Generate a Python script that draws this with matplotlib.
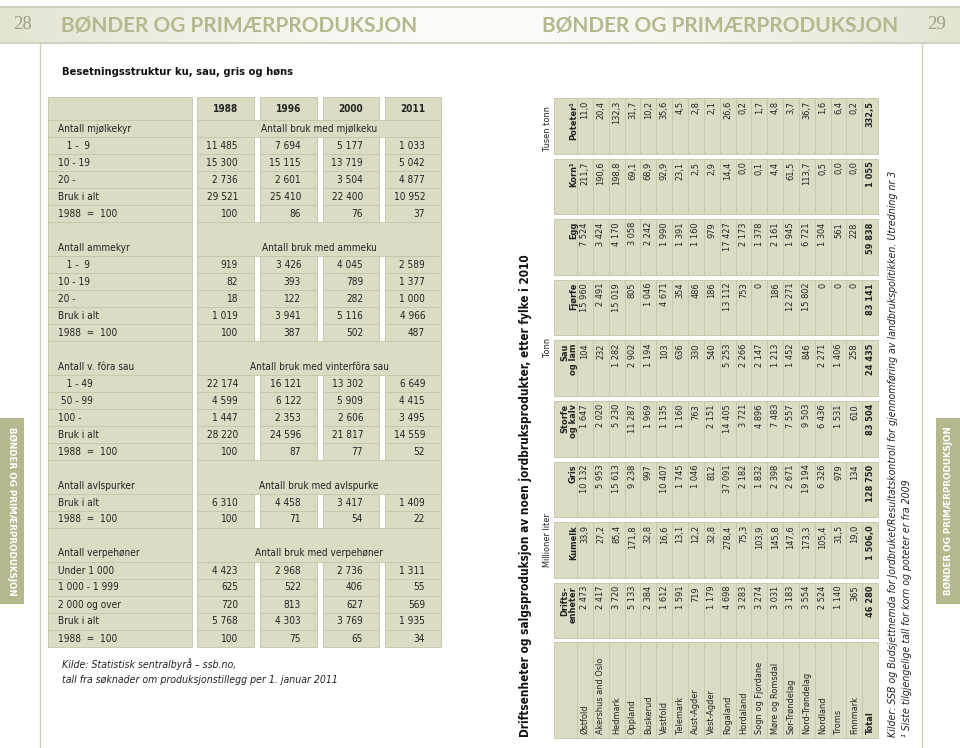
import os

import matplotlib

matplotlib.use("Agg")
import matplotlib.pyplot as plt
import numpy as np
from matplotlib import font_manager as fm
from matplotlib.patches import Rectangle

# ---------------------------------------------------------------- left table
years = ["1988", "1996", "2000", "2011"]
group_titles = ["Antall mjølkekyr", "Antall ammekyr", "Antall v. fôra sau",
                "Antall avlspurker", "Antall verpehøner"]
group_heads = ["Antall bruk med mjølkeku", "Antall bruk med ammeku",
               "Antall bruk med vinterfôra sau", "Antall bruk med avlspurke",
               "Antall bruk med verpehøner"]

mjolk_rows = ["   1 -  9", "10 - 19", "20 -", "Bruk i alt", "1988  =  100"]
mjolk_vals = [[11485, 7694, 5177, 1033], [15300, 15115, 13719, 5042],
              [2736, 2601, 3504, 4877], [29521, 25410, 22400, 10952],
              [100, 86, 76, 37]]
amme_rows = ["   1 -  9", "10 - 19", "20 -", "Bruk i alt", "1988  =  100"]
amme_vals = [[919, 3426, 4045, 2589], [82, 393, 789, 1377],
             [18, 122, 282, 1000], [1019, 3941, 5116, 4966],
             [100, 387, 502, 487]]
sau_rows = ["   1 - 49", " 50 - 99", "100 -", "Bruk i alt", "1988  =  100"]
sau_vals = [[22174, 16121, 13302, 6649], [4599, 6122, 5909, 4415],
            [1447, 2353, 2606, 3495], [28220, 24596, 21817, 14559],
            [100, 87, 77, 52]]
gris_rows = ["Bruk i alt", "1988  =  100"]
gris_vals = [[6310, 4458, 3417, 1409], [100, 71, 54, 22]]
hons_rows = ["Under 1 000", "1 000 - 1 999", "2 000 og over", "Bruk i alt",
             "1988  =  100"]
hons_vals = [[4423, 2968, 2736, 1311], [625, 522, 406, 55],
             [720, 813, 627, 569], [5768, 4303, 3769, 1935],
             [100, 75, 65, 34]]

groups = [(mjolk_rows, mjolk_vals), (amme_rows, amme_vals),
          (sau_rows, sau_vals), (gris_rows, gris_vals),
          (hons_rows, hons_vals)]

# --------------------------------------------------------------- right table
counties = ["Østfold", "Akershus and Oslo", "Hedmark", "Oppland", "Buskerud",
            "Vestfold", "Telemark", "Aust-Agder", "Vest-Agder", "Rogaland",
            "Hordaland", "Sogn og Fjordane", "Møre og Romsdal",
            "Sør-Trøndelag", "Nord-Trøndelag", "Nordland", "Troms",
            "Finnmark", "Total"]
col_heads = [("Drifts-", "enheter"), ("", "Kumelk"), ("", "Gris"),
             ("Storfe", "og kalv"), ("Sau", "og lam"), ("", "Fjørfe"),
             ("", "Egg"), ("", "Korn¹"), ("", "Poteter¹")]
driftsenheter = [2473, 2417, 3720, 5133, 2384, 1612, 1591, 719, 1179, 4698,
                 3283, 3274, 3031, 3183, 3554, 2524, 1140, 365, 46280]
kumelk = [33.9, 27.2, 85.4, 171.8, 32.8, 16.6, 13.1, 12.2, 32.8, 278.4, 75.3,
          103.9, 145.8, 147.6, 173.3, 105.4, 31.5, 19.0, 1506.0]
gris = [10132, 5953, 15613, 9238, 997, 10407, 1745, 1046, 812, 37091, 2182,
        1832, 2398, 2671, 19194, 6326, 979, 134, 128750]
storfe = [1647, 2020, 5230, 11287, 1969, 1135, 1160, 763, 2151, 14405, 3721,
          4896, 7483, 7557, 9503, 6436, 1531, 610, 83504]
sau = [104, 232, 1282, 2902, 1194, 103, 636, 330, 540, 5253, 2266, 2147,
       1213, 1452, 846, 2271, 1406, 258, 24435]
fjorfe = [15960, 2491, 15019, 805, 1046, 4671, 354, 486, 186, 13112, 753, 0,
          186, 12271, 15802, 0, 0, 0, 83141]
egg = [7524, 3424, 4170, 3058, 2242, 1990, 1391, 1160, 979, 17427, 2173,
       1378, 2161, 1945, 6721, 1304, 561, 228, 59838]
korn = [211.7, 190.6, 198.8, 69.1, 68.9, 92.9, 23.1, 2.5, 2.9, 14.4, 0.0, 0.1,
        4.4, 61.5, 113.7, 0.5, 0.0, 0.0, 1055]
poteter = [11.0, 20.4, 132.3, 31.7, 10.2, 35.6, 4.5, 2.8, 2.1, 26.6, 0.2, 1.7,
           4.8, 3.7, 36.7, 1.6, 6.4, 0.2, 332.5]
right_cols = [driftsenheter, kumelk, gris, storfe, sau, fjorfe, egg, korn,
              poteter]

FILL = "#dcdcc5"
LINE = "#c4c4a8"
OLIVE = "#b5b88d"
TXT = "#222222"

# ------------------------------------------------------------------- fonts
_paths = {os.path.basename(p): p for p in fm.findSystemFonts()}


def font(names, family, weight="normal", style="normal"):
    for n in names:
        if n in _paths:
            return fm.FontProperties(fname=_paths[n]), 1.0
    return fm.FontProperties(family=family, weight=weight, style=style), 0.86


NARROW = font(["LiberationSansNarrow-Regular.ttf", "DejaVuSansCondensed.ttf"],
              "Liberation Sans")
NARROW_B = font(["LiberationSansNarrow-Bold.ttf", "DejaVuSansCondensed-Bold.ttf"],
                "Liberation Sans", weight="bold")
NARROW_I = font(["LiberationSansNarrow-Italic.ttf",
                 "DejaVuSansCondensed-Oblique.ttf"],
                "Liberation Sans", style="italic")


def fp(f, size):
    p = f[0].copy()
    p.set_size(size * f[1])
    return p


def fmt(v):
    if isinstance(v, float):
        s = f"{v:,.1f}"
    else:
        s = f"{v:,}"
    return s.replace(",", " ").replace(".", ",")


fig = plt.figure(figsize=(9.6, 7.48), dpi=100)
ax = fig.add_axes([0, 0, 1, 1])
ax.set_xlim(0, 960)
ax.set_ylim(748, 0)
ax.axis("off")

# ------------------------------------------------------------ page furniture
t = np.abs(np.linspace(-1, 1, 480))[None, :, None]
edge = np.array([228, 228, 212]) / 255
mid = np.array([253, 253, 250]) / 255
band = mid + (edge - mid) * t ** 1.2
ax.imshow(band, extent=(0, 960, 43, 7), aspect="auto", zorder=0)
for yy in (7, 43):
    ax.plot([0, 960], [yy, yy], color="#cbcbb5", lw=1.2, zorder=1)
ax.plot([39.5, 39.5], [43, 748], color="#cfcfba", lw=1)
ax.plot([921.5, 921.5], [43, 748], color="#cfcfba", lw=1)

head_fp = fm.FontProperties(family="Lato", weight="bold", size=15.0)
ax.text(61, 26, "BØNDER OG PRIMÆRPRODUKSJON", fontproperties=head_fp,
        color=OLIVE, ha="left", va="center")
ax.text(898, 26, "BØNDER OG PRIMÆRPRODUKSJON", fontproperties=head_fp,
        color=OLIVE, ha="right", va="center")
num_fp = fm.FontProperties(family="Liberation Serif", size=13.5)
ax.text(13, 24, "28", fontproperties=num_fp, color="#9e9e88", va="center")
ax.text(946, 24, "29", fontproperties=num_fp, color="#9e9e88", va="center",
        ha="right")

tab_fp = fm.FontProperties(family="DejaVu Sans", weight="bold", size=6.3)
ax.add_patch(Rectangle((0, 418), 24, 186, color=OLIVE, lw=0))
ax.add_patch(Rectangle((936, 418), 24, 186, color=OLIVE, lw=0))
ax.text(12, 511, "BØNDER OG PRIMÆRPRODUKSJON", fontproperties=tab_fp,
        color="white", rotation=-90, ha="center", va="center")
ax.text(948, 511, "BØNDER OG PRIMÆRPRODUKSJON", fontproperties=tab_fp,
        color="white", rotation=90, ha="center", va="center")


def box(x0, y0, x1, y1):
    ax.add_patch(Rectangle((x0, y0), x1 - x0, y1 - y0, facecolor=FILL,
                           edgecolor=LINE, lw=0.6))


def hline(x0, x1, y):
    ax.plot([x0, x1], [y, y], color=LINE, lw=0.6)


def vline(x, y0, y1):
    ax.plot([x, x], [y0, y1], color=LINE, lw=0.6)


# -------------------------------------------------------------- left table
ax.text(62, 72, "Besetningsstruktur ku, sau, gris og høns",
        fontproperties=fp(NARROW_B, 8.0), color="#111111", va="center")

LX0, LX1 = 48, 192
COLS = [(197, 254), (260, 317), (323, 379), (385, 441)]
HEAD_TOP, BODY_TOP, RH = 97, 120, 17.0
PAD = 16
f_l = fp(NARROW, 7.2)

# assign row indices
layout = []
r = 0
for g, (rows, vals) in enumerate(groups):
    blank = r if g > 0 else None
    if g > 0:
        r += 1
    title = r
    r += 1
    first = r
    r += len(rows)
    layout.append((blank, title, first, r))
n_rows = r
bottom = BODY_TOP + RH * n_rows

box(LX0, HEAD_TOP, LX1, bottom)
hline(LX0, LX1, BODY_TOP)
for c, (x0, x1) in enumerate(COLS):
    box(x0, HEAD_TOP, x1, BODY_TOP)
    ax.text(x1 - PAD, (HEAD_TOP + BODY_TOP) / 2, years[c],
            fontproperties=fp(NARROW_B, 7.2), color=TXT, ha="right",
            va="center")

for g, (rows, vals) in enumerate(groups):
    blank, title, first, end = layout[g]
    top = BODY_TOP + RH * (blank if blank is not None else title)
    tb = BODY_TOP + RH * (title + 1)
    yb = BODY_TOP + RH * end
    box(COLS[0][0], top, COLS[-1][1], tb)
    ax.text(LX0 + 10, tb - RH / 2, group_titles[g], fontproperties=f_l,
            color=TXT, va="center")
    ax.text((COLS[0][0] + COLS[-1][1]) / 2, tb - RH / 2, group_heads[g],
            fontproperties=f_l, color=TXT, ha="center", va="center")
    hline(LX0, LX1, tb)
    if blank is not None:
        hline(LX0, LX1, top)
    for x0, x1 in COLS:
        box(x0, tb, x1, yb)
    for i, (lab, row) in enumerate(zip(rows, vals)):
        yc = BODY_TOP + RH * (first + i) + RH / 2
        ax.text(LX0 + 10, yc, lab, fontproperties=f_l, color=TXT,
                va="center")
        for c, (x0, x1) in enumerate(COLS):
            ax.text(x1 - PAD, yc, fmt(row[c]), fontproperties=f_l, color=TXT,
                    ha="right", va="center")
        ylow = yc + RH / 2
        if i < len(rows) - 1:
            hline(LX0, LX1, ylow)
            for x0, x1 in COLS:
                hline(x0, x1, ylow)

f_src = fp(NARROW_I, 7.6)
ax.text(62, 664, "Kilde: Statistisk sentralbyrå – ssb.no,", fontproperties=f_src,
        color=TXT, va="center")
ax.text(62, 680, "tall fra søknader om produksjonstillegg per 1. januar 2011",
        fontproperties=f_src, color=TXT, va="center")

# ------------------------------------------------------------- right table
HX0, HX1 = 554, 577          # column-header strip (x)
RW = 15.85                   # width of one county row
TOP, PITCH, CW = 98, 60.6, 55.5
LAB_Y0, LAB_Y1 = 642, 738
f_r = fp(NARROW, 6.6)
f_rb = fp(NARROW_B, 6.6)
n_c = len(counties)
x_end = HX1 + RW * n_c

ax.text(525, 737, "Driftsenheter og salgsproduksjon av noen "
        "jordbruksprodukter, etter fylke i 2010",
        fontproperties=fp(NARROW_B, 8.5), color="#111111", rotation=90,
        rotation_mode="anchor", ha="left", va="center")
for txt, yc in (("Millioner liter", 540), ("Tonn", 347), ("Tusen tonn", 128)):
    ax.text(548, yc, txt, fontproperties=f_r, color=TXT, rotation=90,
            rotation_mode="anchor", ha="center", va="center")

# county label block
box(HX0, LAB_Y0, x_end, LAB_Y1)
for k in range(n_c):
    xb = HX1 + RW * k
    vline(xb, LAB_Y0, LAB_Y1)
    ax.text(xb + RW / 2, LAB_Y1 - 4, counties[k],
            fontproperties=f_rb if k == n_c - 1 else f_r, color=TXT,
            rotation=90, rotation_mode="anchor", ha="left", va="center")

# value blocks, Poteter at top, Driftsenheter at bottom
n_v = len(right_cols)
for j, (vals, head) in enumerate(zip(right_cols, col_heads)):
    y0 = TOP + PITCH * (n_v - 1 - j)
    y1 = y0 + CW
    box(HX0, y0, x_end, y1)
    ax.text(HX1 - 12, y0 + 3, head[0], fontproperties=f_rb, color=TXT,
            rotation=90, rotation_mode="anchor", ha="right", va="center")
    ax.text(HX1 - 3.5, y0 + 3, head[1], fontproperties=f_rb, color=TXT,
            rotation=90, rotation_mode="anchor", ha="right", va="center")
    for k, v in enumerate(vals):
        xb = HX1 + RW * k
        vline(xb, y0, y1)
        ax.text(xb + RW / 2, y0 + 3, fmt(v),
                fontproperties=f_rb if k == n_c - 1 else f_r, color=TXT,
                rotation=90, rotation_mode="anchor", ha="right", va="center")

f_note = fp(NARROW_I, 7.6)
ax.text(893, 737, "Kilder: SSB og Budsjettnemda for Jordbruket/Resultatskontroll"
        " for gjennomføring av landbrukspolitikken. Utredning nr 3",
        fontproperties=f_note, color=TXT, rotation=90,
        rotation_mode="anchor", ha="left", va="center")
ax.text(907, 737, "¹ Siste tilgjengelige tall for korn og poteter er fra 2009",
        fontproperties=f_note, color=TXT, rotation=90,
        rotation_mode="anchor", ha="left", va="center")

fig.savefig("out.png", dpi=100, facecolor="white")
